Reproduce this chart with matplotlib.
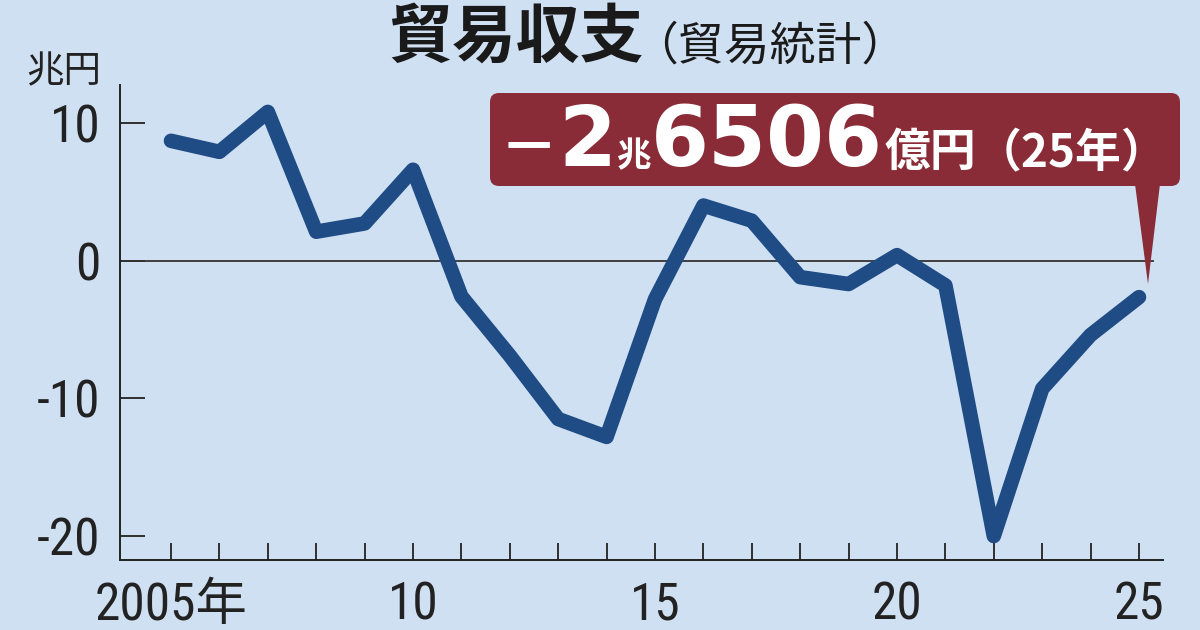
import matplotlib
matplotlib.use('Agg')
import matplotlib.pyplot as plt
from matplotlib.patches import FancyBboxPatch, Polygon

# ---- data ----
years = list(range(2005, 2026))
balance = [8.7, 7.9, 10.8, 2.1, 2.7, 6.6, -2.6, -6.9, -11.5, -12.8, -2.8,
           4.0, 2.9, -1.2, -1.7, 0.4, -1.8, -20.0, -9.3, -5.4, -2.65]
xtick_years = [2005, 2010, 2015, 2020, 2025]
xtick_labels = ['2005年', '10', '15', '20', '25']
ytick_values = [10, 0, -10, -20]
ytick_labels = ['10', '0', '-10', '-20']
title = '貿易収支'
subtitle = '（貿易統計）'
unit = '兆円'
callout_parts = ['－', '2', '兆', '6506', '億円', '（25年）']

# ---- style ----
BG = '#d0e0f3'
LINE = '#1f4c84'
BOX = '#8a2c37'
DARK = '#222222'
CJK = 'Noto Sans CJK JP'
NUMF = ['Roboto Condensed', 'Archivo Narrow', 'PT Sans Narrow',
        'Liberation Sans Narrow', 'Open Sans', CJK]

fig = plt.figure(figsize=(12, 6.3), dpi=100, facecolor=BG)
W, H = 1200, 630
left, right, top, bottom = 120, 1163, 85, 560
ax = fig.add_axes([left / W, (H - bottom) / H, (right - left) / W, (bottom - top) / H])
ax.set_facecolor(BG)
ppx = 48.4   # pixels per year
ppy = 13.8   # pixels per unit
ax.set_xlim(2005 - (171 - left) / ppx, 2025 + (right - 1139) / ppx)
ax.set_ylim(-20 - (bottom - 536) / ppy, 10 + (123 - top) / ppy)

for s in ['top', 'right']:
    ax.spines[s].set_visible(False)
for s in ['left', 'bottom']:
    ax.spines[s].set_color(DARK)
    ax.spines[s].set_linewidth(1.4)

ax.axhline(0, xmin=0, xmax=(1153 - left) / (right - left), color='#333333', lw=1.3, zorder=2)

ax.plot(years, balance, color=LINE, lw=10.5, solid_capstyle='round',
        solid_joinstyle='round', zorder=3)

ax.set_xticks(years)
ax.set_xticklabels([xtick_labels[xtick_years.index(y)] if y in xtick_years else '' for y in years])
ax.set_yticks(ytick_values)
ax.set_yticklabels(ytick_labels)
ax.tick_params(axis='x', direction='in', length=12, width=1.3, color=DARK, pad=15)
ax.tick_params(axis='y', direction='in', length=18, width=1.3, color=DARK, pad=14)
for lab in ax.get_xticklabels() + ax.get_yticklabels():
    lab.set_family(NUMF)
    lab.set_stretch('condensed')
    lab.set_fontsize(37)
    lab.set_color(DARK)

# ---- overlay in pixel coordinates ----
ov = fig.add_axes([0, 0, 1, 1], zorder=5)
ov.set_xlim(0, W)
ov.set_ylim(H, 0)
ov.axis('off')
ov.patch.set_alpha(0)

ov.text(388, 38, title, fontsize=46, weight='bold', family=CJK, color='#1a1a1a',
        va='center', ha='left')
ov.text(632, 46, subtitle, fontsize=33, family=CJK, color='#1a1a1a',
        va='center', ha='left')
ov.text(26, 72, unit, fontsize=27, family=CJK, color=DARK, va='center', ha='left')

ov.add_patch(FancyBboxPatch((490, 93), 690, 93,
                            boxstyle='round,pad=0,rounding_size=9',
                            fc=BOX, ec='none'))
ov.add_patch(Polygon([(1135, 184), (1160, 184), (1148, 284)], closed=True,
                     fc=BOX, ec='none'))

# callout text laid out piece by piece
base = 166
specs = [
    (callout_parts[0], 42, CJK, 0),
    (callout_parts[1], 60, 'DejaVu Sans', 0),
    (callout_parts[2], 25, CJK, 0),
    (callout_parts[3], 60, 'DejaVu Sans', 0),
    (callout_parts[4], 33, CJK, 1),
    (callout_parts[5], 33, CJK, 0),
]
fig.canvas.draw()
renderer = fig.canvas.get_renderer()
inv = ov.transData.inverted()
x = 500
for txt, fs, fam, gap in specs:
    t = ov.text(x + gap, base, txt, fontsize=fs, weight='bold', family=[fam, CJK],
                color='white', va='baseline', ha='left')
    bb = t.get_window_extent(renderer)
    x = inv.transform((bb.x1, 0))[0]

fig.savefig('out.png', dpi=100, facecolor=BG)
